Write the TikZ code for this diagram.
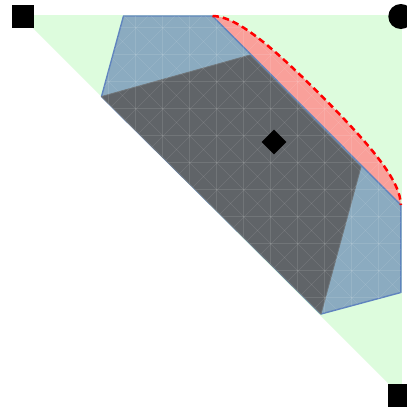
\documentclass[tikz,border=0pt]{standalone}
\definecolor{greenfill}{RGB}{221,252,221}
\definecolor{bluefill}{RGB}{139,171,192}
\definecolor{blueline}{RGB}{96,132,190}
\definecolor{grayfill}{RGB}{96,100,104}
\definecolor{grayline}{RGB}{112,118,122}
\definecolor{redfill}{RGB}{249,160,154}
\definecolor{reddash}{RGB}{255,0,0}
\begin{document}
\begin{tikzpicture}[x=1pt,y=-1pt,
  bluepoly/.style={fill=bluefill, draw=blueline, line width=1.4pt, line join=round},
  graypoly/.style={fill=grayfill, draw=grayline, line width=0.8pt, line join=round},
  redregion/.style={fill=redfill},
  reddashed/.style={draw=reddash, line width=2.5pt, dash pattern=on 6.5pt off 4pt},
  meshline/.style={draw=white, opacity=0.11, line width=0.6pt},
  sqmark/.style={fill=black, inner sep=0pt, outer sep=0pt, minimum width=22pt, minimum height=23.5pt},
  dotmark/.style={circle, fill=black, inner sep=0pt, outer sep=0pt, minimum size=25pt},
  diamark/.style={fill=black, inner sep=0pt, outer sep=0pt, minimum size=17.4pt, rotate=45}]
\useasboundingbox (0,0) rectangle (407,407);
\fill[white] (0,0) rectangle (407,407);
% triangle domain
\coordinate (T1) at (20,15);
\coordinate (T2) at (401.8,15);
\coordinate (T3) at (401.8,396.8);
\fill[greenfill] (T1) -- (T2) -- (T3) -- cycle;
% polygon vertices
\coordinate (A) at (123.5,16);
\coordinate (B) at (212.5,16);
\coordinate (C) at (400.8,205);
\coordinate (D) at (400.8,292.5);
\coordinate (E) at (321,314);
\coordinate (F) at (101.5,96.5);
\coordinate (G) at (250,55);
\coordinate (H) at (361,167);
% outer curve of the red lens (two cubic pieces)
\coordinate (M) at (321.3,95.7);
\coordinate (Ca) at (236,16);
\coordinate (Cb) at (270.8,45.2);
\coordinate (Cc) at (371.8,146.2);
\coordinate (Cd) at (400.8,181.5);
% red lens
\fill[redregion] (B) .. controls (Ca) and (Cb) .. (M) .. controls (Cc) and (Cd) .. (C) -- cycle;
% blue polygon
\path[bluepoly] (A) -- (B) -- (C) -- (D) -- (E) -- (F) -- cycle;
% dark polygon
\path[graypoly] (F) -- (G) -- (H) -- (E) -- cycle;
% faint mesh
\begin{scope}
  \clip (A) -- (B) .. controls (Ca) and (Cb) .. (M) .. controls (Cc) and (Cd) .. (C) -- (D) -- (E) -- (F) -- cycle;
  \foreach \i in {0,27,...,405} {
    \draw[meshline] (\i,0) -- (\i,407);
    \draw[meshline] (0,\i) -- (407,\i);
  }
  \foreach \c in {-405,-378,...,405} {
    \draw[meshline] (\c,0) -- ({\c+407},407);
    \draw[meshline] (\c,407) -- ({\c+407},0);
  }
\end{scope}
% dashed boundary
\draw[reddashed] (B) .. controls (Ca) and (Cb) .. (M) .. controls (Cc) and (Cd) .. (C);
% markers
\node[sqmark] (m1) at (23.3,16.3) {};
\node[dotmark] (m2) at (400.8,16.5) {};
\node[sqmark] (m3) at (399.3,395.3) {};
\node[diamark] (m4) at (274,142) {};
\end{tikzpicture}
\end{document}
